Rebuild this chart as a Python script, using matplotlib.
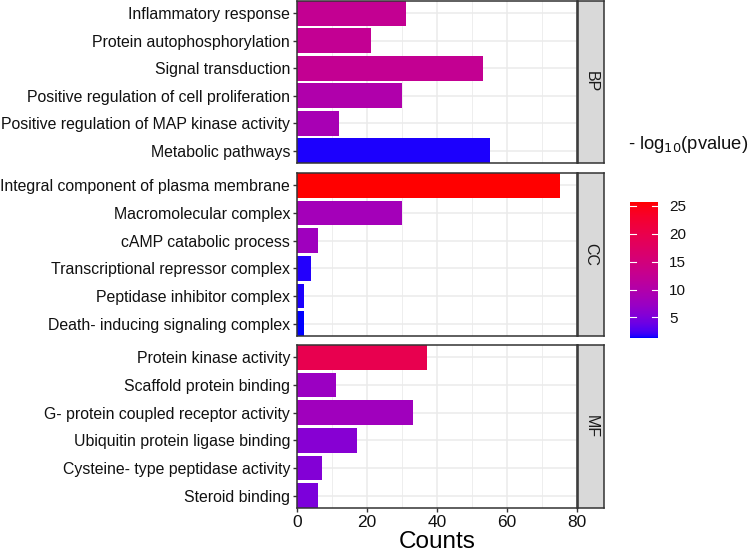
import numpy as np
import matplotlib.pyplot as plt
from matplotlib.colors import ListedColormap, Normalize
from matplotlib.cm import ScalarMappable

plt.rcParams['font.family'] = ['Liberation Sans', 'DejaVu Sans']

# data
groups = ["BP", "CC", "MF"]
terms = {
    "BP": ["Inflammatory response", "Protein autophosphorylation", "Signal transduction",
           "Positive regulation of cell proliferation", "Positive regulation of MAP kinase activity",
           "Metabolic pathways"],
    "CC": ["Integral component of plasma membrane", "Macromolecular complex", "cAMP catabolic process",
           "Transcriptional repressor complex", "Peptidase inhibitor complex",
           "Death- inducing signaling complex"],
    "MF": ["Protein kinase activity", "Scaffold protein binding", "G- protein coupled receptor activity",
           "Ubiquitin protein ligase binding", "Cysteine- type peptidase activity", "Steroid binding"],
}
counts = {
    "BP": [31, 21, 53, 30, 12, 55],
    "CC": [75, 30, 6, 4, 2, 2],
    "MF": [37, 11, 33, 17, 7, 6],
}
logp = {
    "BP": [12.5, 12.4, 12.5, 9.8, 8.9, 1.5],
    "CC": [25.7, 8.4, 7.9, 1.6, 1.5, 1.35],
    "MF": [19.6, 7.4, 8.0, 5.7, 5.4, 5.0],
}
vmin, vmax = 1.3, 25.7


# ggplot-like gradient: interpolate blue -> red in Lab space
def srgb_to_lab(c):
    c = np.asarray(c, float)
    lin = np.where(c <= 0.04045, c / 12.92, ((c + 0.055) / 1.055) ** 2.4)
    M = np.array([[0.4124, 0.3576, 0.1805], [0.2126, 0.7152, 0.0722], [0.0193, 0.1192, 0.9505]])
    xyz = M @ lin / np.array([0.95047, 1.0, 1.08883])
    f = np.where(xyz > 0.008856, np.cbrt(xyz), 7.787 * xyz + 16 / 116)
    return np.array([116 * f[1] - 16, 500 * (f[0] - f[1]), 200 * (f[1] - f[2])])


def lab_to_srgb(lab):
    L, a, b = lab
    fy = (L + 16) / 116
    fx = fy + a / 500
    fz = fy - b / 200
    f = np.array([fx, fy, fz])
    xyz = np.where(f ** 3 > 0.008856, f ** 3, (f - 16 / 116) / 7.787) * np.array([0.95047, 1.0, 1.08883])
    Minv = np.array([[3.2406, -1.5372, -0.4986], [-0.9689, 1.8758, 0.0415], [0.0557, -0.2040, 1.0570]])
    lin = Minv @ xyz
    lin = np.clip(lin, 0, 1)
    c = np.where(lin <= 0.0031308, 12.92 * lin, 1.055 * lin ** (1 / 2.4) - 0.055)
    return np.clip(c, 0, 1)


lo, hi = srgb_to_lab([0, 0, 1]), srgb_to_lab([1, 0, 0])
cmap = ListedColormap([lab_to_srgb(lo + (hi - lo) * t) for t in np.linspace(0, 1, 256)])
norm = Normalize(vmin, vmax)

fig = plt.figure(figsize=(7.5, 5.52), dpi=100)

left, width = 297 / 750, 280 / 750
panel_px = [(1, 163), (173, 336), (345, 508)]
border = '#333333'

for g, (top, bot) in zip(groups, panel_px):
    ax = fig.add_axes([left, 1 - bot / 552, width, (bot - top) / 552])
    n = len(terms[g])
    y = np.arange(n)[::-1]
    ax.set_axisbelow(True)
    ax.barh(y, counts[g], height=0.9, color=cmap(norm(np.array(logp[g]))), zorder=2)
    ax.set_xlim(0, 80)
    ax.set_ylim(-0.45, n - 0.55)
    ax.set_yticks(y)
    ax.set_yticklabels(terms[g], fontsize=11.4, color='#111111')
    ax.set_xticks([0, 20, 40, 60, 80])
    ax.set_xticks([10, 30, 50, 70], minor=True)
    ax.grid(which='major', color='#EBEBEB', lw=1.1)
    ax.grid(which='minor', axis='x', color='#EBEBEB', lw=0.6)
    ax.tick_params(axis='both', which='major', length=3, width=1, color=border, pad=2)
    ax.tick_params(axis='x', which='minor', length=0)
    for s in ax.spines.values():
        s.set_color(border)
        s.set_linewidth(1.1)
    if g != groups[-1]:
        ax.tick_params(axis='x', labelbottom=False, length=0)
    else:
        ax.tick_params(axis='x', labelsize=12.5, labelcolor='#111111')
        ax.set_xlabel('Counts', fontsize=17.5, labelpad=1)

    # facet strip
    sax = fig.add_axes([578 / 750, 1 - bot / 552, 26 / 750, (bot - top) / 552])
    sax.set_facecolor('#D9D9D9')
    sax.set_xticks([])
    sax.set_yticks([])
    for s in sax.spines.values():
        s.set_color(border)
        s.set_linewidth(1.1)
    sax.text(0.5, 0.5, g, rotation=-90, ha='center', va='center', fontsize=11.5,
             color='#1a1a1a', transform=sax.transAxes)

# colour bar
cax = fig.add_axes([630 / 750, 1 - 338 / 552, 28 / 750, 136 / 552])
cb = fig.colorbar(ScalarMappable(norm=norm, cmap=cmap), cax=cax, ticks=[5, 10, 15, 20, 25])
cb.outline.set_visible(False)
cax.tick_params(length=0, labelsize=11, labelcolor='#111111', pad=8)
for v in [5, 10, 15, 20, 25]:
    cax.plot([0, 0.2], [v, v], color='white', lw=0.8, transform=cax.get_yaxis_transform())
    cax.plot([0.8, 1], [v, v], color='white', lw=0.8, transform=cax.get_yaxis_transform())
fig.text(628 / 750, 1 - 149 / 552, r'- log$_{10}$(pvalue)', fontsize=13.2, color='#111111',
         ha='left', va='baseline')

fig.savefig('out.png', dpi=100)
